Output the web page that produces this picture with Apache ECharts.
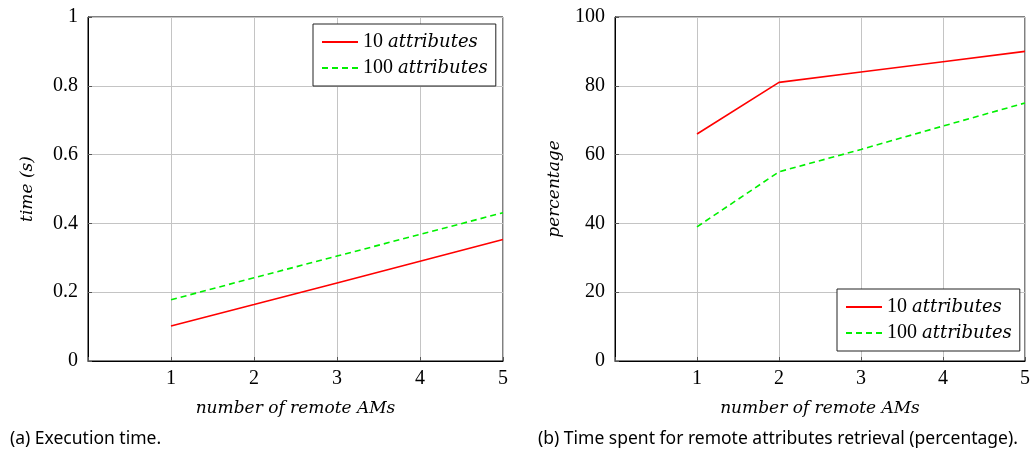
<!DOCTYPE html>
<html>
<head>
<meta charset="utf-8">
<script src="https://cdn.jsdelivr.net/npm/echarts@6/dist/echarts.min.js"></script>
<style>
html,body{margin:0;padding:0;background:#fff;}
#chart{width:1033px;height:454px;}
</style>
</head>
<body>
<div id="chart"></div>
<script>
// ---- data ----
const remoteAMs = [1, 2, 3, 4, 5];
const seriesNames = ['10 attributes', '100 attributes'];
const timeAttr10 = [0.102, 0.164, 0.227, 0.290, 0.353];
const timeAttr100 = [0.178, 0.242, 0.305, 0.368, 0.431];
const pctAttr10 = [66, 81, 84, 87, 90];
const pctAttr100 = [39, 55, 61.5, 68.3, 75];
const xLabel = 'number of remote AMs';
const yLabelLeft = 'time (s)';
const yLabelRight = 'percentage';
const captionA = '(a) Execution time.';
const captionB = '(b) Time spent for remote attributes retrieval (percentage).';

const SERIF = '"Liberation Serif", "DejaVu Serif", serif';
const ISERIF = '"DejaVu Serif", "Liberation Serif", serif';
const RED = '#ff0000';
const GREEN = '#00f000';
const GRID = '#c4c4c4';

function pairs(xs, ys){ return xs.map((x,i)=>[x, ys[i]]); }

function xAxisDef(gridIndex){
  return {
    type:'value', gridIndex, min:0, max:5, interval:1,
    axisLine:{show:true, lineStyle:{color:'#000', width:1}},
    axisTick:{show:true, inside:true, length:4, lineStyle:{color:'#555'}},
    splitLine:{show:true, lineStyle:{color:GRID, width:1}},
    axisLabel:{margin:8, fontFamily:SERIF, fontSize:20, color:'#000',
      formatter:v=> v===0 ? '' : String(v)},
    name:xLabel, nameLocation:'middle', nameGap:39,
    nameTextStyle:{fontFamily:ISERIF, fontSize:17, fontStyle:'italic', color:'#000'}
  };
}
function yAxisDef(gridIndex, max, interval, name, gap, fmt){
  return {
    type:'value', gridIndex, min:0, max, interval,
    axisLine:{show:true, lineStyle:{color:'#000', width:1}},
    axisTick:{show:true, inside:true, length:4, lineStyle:{color:'#555'}},
    splitLine:{show:true, lineStyle:{color:GRID, width:1}},
    axisLabel:{margin:10, fontFamily:SERIF, fontSize:20, color:'#000', formatter:fmt},
    name, nameLocation:'middle', nameGap:gap, nameRotate:90,
    nameTextStyle:{fontFamily:ISERIF, fontSize:17, fontStyle:'italic', color:'#000'}
  };
}
function lineSeries(name, data, xi, yi, color, dashed){
  return {
    name, type:'line', xAxisIndex:xi, yAxisIndex:yi, data, symbol:'none',
    lineStyle:{color, width:1.6, type: dashed ? [6,4] : 'solid'},
    itemStyle:{color}, silent:true, animation:false
  };
}
function legendDef(left, top){
  return {
    show:true, left, top, orient:'vertical', data: seriesNames.slice(),
    itemWidth:36, itemHeight:14, itemGap:6,
    itemStyle:{opacity:0},
    padding:[8,8,8,8], borderColor:'#222', borderWidth:1, backgroundColor:'#fff',
    selectedMode:false,
    textStyle:{fontFamily:SERIF, fontSize:20, color:'#000',
      rich:{i:{fontFamily:ISERIF, fontSize:18, fontStyle:'italic', color:'#000'}}},
    formatter: n => { const p = n.split(' '); return p[0] + ' {i|' + p[1] + '}'; }
  };
}

const chart = echarts.init(document.getElementById('chart'), null, {renderer:'canvas'});

chart.setOption({
  animation:false,
  backgroundColor:'#fff',
  grid:[
    {left:88, top:17, width:415, height:344, show:true, borderColor:'#000', borderWidth:1, backgroundColor:'transparent'},
    {left:615, top:17, width:415, height:344, show:true, borderColor:'#000', borderWidth:1, backgroundColor:'transparent'}
  ],
  xAxis:[xAxisDef(0), xAxisDef(1)],
  yAxis:[
    yAxisDef(0, 1, 0.2, yLabelLeft, 52, v => String(+v.toFixed(1))),
    yAxisDef(1, 100, 20, yLabelRight, 52, v => String(v))
  ],
  legend:[legendDef(313, 24), legendDef(837, 289)],
  series:[
    lineSeries(seriesNames[0], pairs(remoteAMs, timeAttr10), 0, 0, RED, false),
    lineSeries(seriesNames[1], pairs(remoteAMs, timeAttr100), 0, 0, GREEN, true),
    lineSeries(seriesNames[0], pairs(remoteAMs, pctAttr10), 1, 1, RED, false),
    lineSeries(seriesNames[1], pairs(remoteAMs, pctAttr100), 1, 1, GREEN, true)
  ],
  graphic:[
    {type:'text', left:10, top:430, style:{text:captionA, font:'17.5px "Noto Sans", "Open Sans", sans-serif', fill:'#000'}},
    {type:'text', left:538, top:430, style:{text:captionB, font:'17.5px "Noto Sans", "Open Sans", sans-serif', fill:'#000'}}
  ]
});
</script>
</body>
</html>
